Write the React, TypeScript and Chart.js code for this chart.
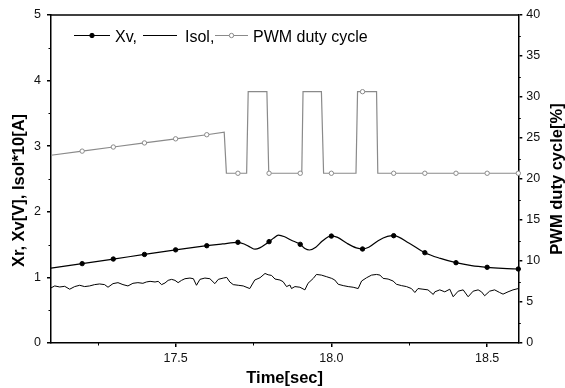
import React, { useEffect, useRef } from "react";
import { Chart, registerables } from "chart.js";

Chart.register(...registerables);

// ---- axis ticks ----
const xTicks = [17.5, 18.0, 18.5];
const xMinorTicks = [17.25, 17.75, 18.25];
const leftTicks = [0, 1, 2, 3, 4, 5];
const leftMinorTicks = [0.5, 1.5, 2.5, 3.5, 4.5];
const rightTicks = [0, 5, 10, 15, 20, 25, 30, 35, 40];
const rightMinorTicks = [2.5, 7.5, 12.5, 17.5, 22.5, 27.5, 32.5, 37.5];

// ---- texts ----
const seriesNames = ["Xv,", "Isol,", "PWM duty cycle"];
const xTitle = "Time[sec]";
const leftTitle = "Xr, Xv[V], Isol*10[A]";
const rightTitle = "PWM duty cycle[%]";

// ---- Xv (left axis) ----
const xvTimes = [17.10, 17.20, 17.30, 17.40, 17.50, 17.60, 17.65, 17.70, 17.72, 17.74, 17.755, 17.77, 17.79, 17.80, 17.815, 17.83, 17.85, 17.87, 17.90, 17.915, 17.93, 17.95, 17.97, 17.99, 18.00, 18.02, 18.05, 18.08, 18.10, 18.12, 18.15, 18.18, 18.20, 18.25, 18.30, 18.35, 18.40, 18.45, 18.50, 18.55, 18.60];
const xvValues = [1.14, 1.21, 1.28, 1.35, 1.42, 1.483, 1.51, 1.535, 1.51, 1.46, 1.43, 1.45, 1.51, 1.545, 1.60, 1.645, 1.62, 1.57, 1.504, 1.44, 1.418, 1.46, 1.55, 1.62, 1.63, 1.61, 1.52, 1.45, 1.433, 1.46, 1.56, 1.625, 1.636, 1.52, 1.377, 1.29, 1.224, 1.18, 1.154, 1.138, 1.128];

// ---- Isol*10 (left axis) ----
const isolTimes = [17.100, 17.112, 17.128, 17.144, 17.160, 17.176, 17.192, 17.208, 17.224, 17.240, 17.256, 17.272, 17.283, 17.299, 17.315, 17.331, 17.347, 17.363, 17.379, 17.395, 17.406, 17.418, 17.434, 17.444, 17.455, 17.466, 17.476, 17.487, 17.498, 17.508, 17.519, 17.530, 17.546, 17.557, 17.567, 17.578, 17.594, 17.610, 17.626, 17.637, 17.653, 17.664, 17.674, 17.685, 17.701, 17.717, 17.738, 17.754, 17.771, 17.787, 17.797, 17.808, 17.819, 17.835, 17.845, 17.856, 17.867, 17.872, 17.883, 17.899, 17.915, 17.925, 17.942, 17.952, 17.968, 17.985, 18.001, 18.011, 18.022, 18.038, 18.054, 18.070, 18.086, 18.097, 18.113, 18.129, 18.145, 18.156, 18.166, 18.182, 18.198, 18.209, 18.225, 18.241, 18.257, 18.268, 18.278, 18.294, 18.310, 18.327, 18.332, 18.348, 18.364, 18.380, 18.391, 18.407, 18.423, 18.439, 18.455, 18.471, 18.482, 18.492, 18.508, 18.524, 18.540, 18.551, 18.567, 18.583, 18.600];
const isolValues = [0.84, 0.87, 0.854, 0.864, 0.82, 0.86, 0.88, 0.86, 0.87, 0.89, 0.90, 0.89, 0.85, 0.905, 0.92, 0.89, 0.87, 0.91, 0.92, 0.91, 0.93, 0.94, 0.93, 0.94, 0.89, 0.915, 0.955, 0.97, 0.955, 0.92, 0.955, 0.98, 0.99, 0.98, 0.88, 0.97, 0.99, 0.98, 0.905, 0.97, 0.99, 1.00, 0.93, 0.89, 0.88, 0.87, 0.83, 0.96, 0.995, 1.06, 1.04, 1.03, 0.975, 0.96, 0.935, 0.86, 0.884, 0.83, 0.86, 0.85, 0.81, 0.91, 0.985, 1.045, 1.035, 1.01, 0.985, 0.96, 0.895, 0.875, 0.86, 0.85, 0.83, 0.945, 0.995, 1.035, 1.045, 1.035, 0.985, 0.975, 0.945, 0.895, 0.875, 0.86, 0.83, 0.77, 0.83, 0.82, 0.81, 0.74, 0.78, 0.81, 0.78, 0.82, 0.705, 0.79, 0.81, 0.705, 0.79, 0.81, 0.78, 0.72, 0.79, 0.81, 0.77, 0.745, 0.78, 0.81, 0.83];

// ---- PWM duty cycle (right axis) ----
const pwmTimes = [17.10, 17.20, 17.30, 17.40, 17.50, 17.60, 17.656, 17.663, 17.70, 17.728, 17.733, 17.793, 17.799, 17.80, 17.90, 17.905, 17.909, 17.968, 17.975, 18.00, 18.079, 18.084, 18.10, 18.145, 18.149, 18.20, 18.30, 18.40, 18.50, 18.60];
const pwmValues = [22.9, 23.4, 23.9, 24.4, 24.9, 25.4, 25.7, 20.7, 20.7, 20.7, 30.65, 30.65, 20.7, 20.7, 20.7, 20.7, 30.65, 30.65, 20.7, 20.7, 20.7, 30.65, 30.65, 30.65, 20.7, 20.7, 20.7, 20.7, 20.7, 20.7];

const FONT = '"Liberation Sans", Arial, Helvetica, sans-serif';
const GRAY = "#8a8a8a";

const toPoints = (ts: number[], vs: number[]) => ts.map((t, i) => ({ x: t, y: vs[i] }));
const isMarker = (t: number | undefined) =>
  typeof t === "number" && t > 17.15 && Math.abs(t * 10 - Math.round(t * 10)) < 1e-6;

const decorPlugin = {
  id: "decor",
  afterDraw(chart: any) {
    const { ctx, chartArea: a, scales } = chart;
    ctx.save();
    ctx.strokeStyle = "#000";
    // top frame line
    ctx.lineWidth = 1.5;
    ctx.beginPath();
    ctx.moveTo(a.left - 0.75, a.top);
    ctx.lineTo(a.right + 0.75, a.top);
    ctx.stroke();
    // minor ticks
    ctx.lineWidth = 1;
    const ml = 2.5;
    ctx.beginPath();
    xMinorTicks.forEach((v) => {
      const p = Math.round(scales.x.getPixelForValue(v)) + 0.5;
      ctx.moveTo(p, a.bottom);
      ctx.lineTo(p, a.bottom + ml);
    });
    leftMinorTicks.forEach((v) => {
      const p = Math.round(scales.y.getPixelForValue(v)) + 0.5;
      ctx.moveTo(a.left, p);
      ctx.lineTo(a.left - ml, p);
    });
    rightMinorTicks.forEach((v) => {
      const p = Math.round(scales.y2.getPixelForValue(v)) + 0.5;
      ctx.moveTo(a.right, p);
      ctx.lineTo(a.right + ml, p);
    });
    ctx.stroke();

    // axis titles
    ctx.fillStyle = "#000";
    ctx.font = `bold 16.5px ${FONT}`;
    ctx.textAlign = "center";
    ctx.textBaseline = "alphabetic";
    ctx.fillText(xTitle, (a.left + a.right) / 2, 383);
    ctx.save();
    ctx.translate(23.5, 190.5);
    ctx.rotate(-Math.PI / 2);
    ctx.fillText(leftTitle, 0, 0);
    ctx.restore();
    ctx.save();
    ctx.translate(561.7, (a.top + a.bottom) / 2);
    ctx.rotate(-Math.PI / 2);
    ctx.fillText(rightTitle, 0, 0);
    ctx.restore();

    // legend
    const ly = 35;
    const items = [
      { x0: 74, x1: 110, tx: 115, color: "#000", width: 1.2, marker: "filled" },
      { x0: 143, x1: 177, tx: 185, color: "#000", width: 1.2, marker: "none" },
      { x0: 215, x1: 248, tx: 253, color: GRAY, width: 1.2, marker: "open" },
    ];
    ctx.font = `16px ${FONT}`;
    ctx.textAlign = "left";
    items.forEach((it, i) => {
      ctx.strokeStyle = it.color;
      ctx.lineWidth = it.width;
      ctx.beginPath();
      ctx.moveTo(it.x0, ly + 0.5);
      ctx.lineTo(it.x1, ly + 0.5);
      ctx.stroke();
      const mx = (it.x0 + it.x1) / 2;
      if (it.marker !== "none") {
        ctx.beginPath();
        ctx.arc(mx, ly + 0.5, 2.2, 0, Math.PI * 2);
        ctx.fillStyle = it.marker === "filled" ? "#000" : "#fff";
        ctx.fill();
        ctx.lineWidth = 1;
        ctx.stroke();
      }
      ctx.fillStyle = "#000";
      ctx.fillText(seriesNames[i], it.tx, 41.5);
    });
    ctx.restore();
  },
};

const axisCommon = {
  grid: {
    display: true,
    drawOnChartArea: false,
    drawTicks: true,
    tickLength: 4,
    color: "#000",
    lineWidth: 1.5,
    tickWidth: 1.5,
  },
  border: { display: true, color: "#000", width: 1.5 },
};

const tickFont = { size: 12.5, family: FONT };

export default function App() {
  const ref = useRef<HTMLCanvasElement>(null);
  useEffect(() => {
    if (!ref.current) return;
    Chart.defaults.font.family = FONT;
    const chart = new Chart(ref.current, {
      type: "line",
      data: {
        datasets: [
          {
            label: seriesNames[0],
            data: toPoints(xvTimes, xvValues),
            yAxisID: "y",
            borderColor: "#000",
            borderWidth: 1.2,
            cubicInterpolationMode: "monotone",
            pointRadius: (c: any) => (isMarker(c.raw?.x) ? 2.2 : 0),
            pointBackgroundColor: "#000",
            pointBorderColor: "#000",
            pointBorderWidth: 1,
            clip: false,
          },
          {
            label: seriesNames[1],
            data: toPoints(isolTimes, isolValues),
            yAxisID: "y",
            borderColor: "#000",
            borderWidth: 1,
            tension: 0,
            pointRadius: 0,
          },
          {
            label: seriesNames[2],
            data: toPoints(pwmTimes, pwmValues),
            yAxisID: "y2",
            borderColor: GRAY,
            borderWidth: 1.2,
            tension: 0,
            pointRadius: (c: any) => (isMarker(c.raw?.x) ? 2.2 : 0),
            pointBackgroundColor: "#fff",
            pointBorderColor: GRAY,
            pointBorderWidth: 1,
            clip: false,
          },
        ] as any,
      },
      options: {
        responsive: false,
        maintainAspectRatio: false,
        devicePixelRatio: 1,
        animation: false,
        events: [],
        layout: { padding: { top: 15, left: 0, right: 0, bottom: 0 } },
        plugins: { legend: { display: false }, tooltip: { enabled: false } },
        scales: {
          x: {
            type: "linear",
            min: 17.1,
            max: 18.6,
            ...axisCommon,
            afterBuildTicks: (s: any) => {
              s.ticks = xTicks.map((v) => ({ value: v }));
            },
            afterFit: (s: any) => {
              s.height = 45;
            },
            ticks: {
              font: tickFont,
              color: "#111",
              padding: 4,
              maxRotation: 0,
              autoSkip: false,
              callback: (v: any) => Number(v).toFixed(1),
            },
          },
          y: {
            type: "linear",
            position: "left",
            min: 0,
            max: 5,
            ...axisCommon,
            afterBuildTicks: (s: any) => {
              s.ticks = leftTicks.map((v) => ({ value: v }));
            },
            afterFit: (s: any) => {
              s.width = 51;
            },
            ticks: {
              font: tickFont,
              color: "#111",
              padding: 6,
              autoSkip: false,
              callback: (v: any) => String(v),
            },
          },
          y2: {
            type: "linear",
            position: "right",
            min: 0,
            max: 40,
            ...axisCommon,
            afterBuildTicks: (s: any) => {
              s.ticks = rightTicks.map((v) => ({ value: v }));
            },
            afterFit: (s: any) => {
              s.width = 46.7;
            },
            ticks: {
              font: tickFont,
              color: "#111",
              padding: 4,
              autoSkip: false,
              callback: (v: any) => String(v),
            },
          },
        },
      } as any,
      plugins: [decorPlugin],
    });
    return () => chart.destroy();
  }, []);

  return (
    <div style={{ position: "fixed", left: 0, top: 0, width: 565, height: 388, background: "#fff" }}>
      <canvas ref={ref} width={565} height={388} style={{ display: "block", width: 565, height: 388 }} />
    </div>
  );
}
